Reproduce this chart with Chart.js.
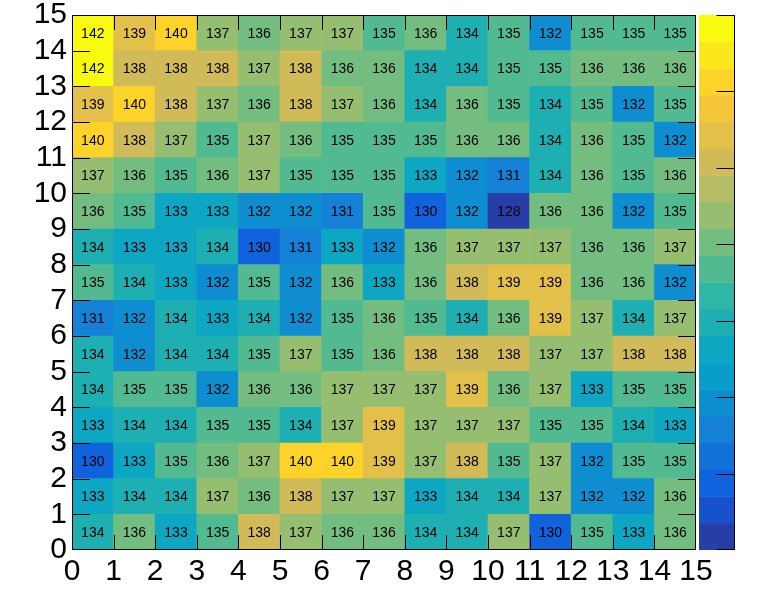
<!DOCTYPE html>
<html>
<head>
<meta charset="utf-8">
<script src="https://cdn.jsdelivr.net/npm/chart.js@4/dist/chart.umd.min.js"></script>
<style>
    body { margin: 0; background: #fff; }
    #wrap { position: relative; width: 769px; height: 589px; }
    #mapChart { position: absolute; left: 0; top: 0; }
    #paletteChart { position: absolute; left: 699px; top: 15px; }
</style>
</head>
<body>
<div id="wrap">
    <canvas id="mapChart" width="769" height="589"></canvas>
    <canvas id="paletteChart" width="36" height="535"></canvas>
</div>
<script>
// bin contents, top row (y bin 14) first
const binRows = [
    [142, 139, 140, 137, 136, 137, 137, 135, 136, 134, 135, 132, 135, 135, 135],
    [142, 138, 138, 138, 137, 138, 136, 136, 134, 134, 135, 135, 136, 136, 136],
    [139, 140, 138, 137, 136, 138, 137, 136, 134, 136, 135, 134, 135, 132, 135],
    [140, 138, 137, 135, 137, 136, 135, 135, 135, 136, 136, 134, 136, 135, 132],
    [137, 136, 135, 136, 137, 135, 135, 135, 133, 132, 131, 134, 136, 135, 136],
    [136, 135, 133, 133, 132, 132, 131, 135, 130, 132, 128, 136, 136, 132, 135],
    [134, 133, 133, 134, 130, 131, 133, 132, 136, 137, 137, 137, 136, 136, 137],
    [135, 134, 133, 132, 135, 132, 136, 133, 136, 138, 139, 139, 136, 136, 132],
    [131, 132, 134, 133, 134, 132, 135, 136, 135, 134, 136, 139, 137, 134, 137],
    [134, 132, 134, 134, 135, 137, 135, 136, 138, 138, 138, 137, 137, 138, 138],
    [134, 135, 135, 132, 136, 136, 137, 137, 137, 139, 136, 137, 133, 135, 135],
    [133, 134, 134, 135, 135, 134, 137, 139, 137, 137, 137, 135, 135, 134, 133],
    [130, 133, 135, 136, 137, 140, 140, 139, 137, 138, 135, 137, 132, 135, 135],
    [133, 134, 134, 137, 136, 138, 137, 137, 133, 134, 134, 137, 132, 132, 136],
    [134, 136, 133, 135, 138, 137, 136, 136, 134, 134, 137, 130, 135, 133, 136]
];
const axisMin = 0;
const axisMax = 15;
const zMin = 128;
const zMax = 142;
const nContours = 20;
const paletteTicks = [128, 130, 132, 134, 136, 138, 140, 142];

// kBird gradient
const birdStops = [0.0000, 0.1250, 0.2500, 0.3750, 0.5000, 0.6250, 0.7500, 0.8750, 1.0000];
const birdRed   = [0.2082, 0.0592, 0.0780, 0.0232, 0.1802, 0.5301, 0.8186, 0.9956, 0.9764];
const birdGreen = [0.1664, 0.3599, 0.5041, 0.6419, 0.7178, 0.7492, 0.7328, 0.7862, 0.9832];
const birdBlue  = [0.5293, 0.8684, 0.8385, 0.7914, 0.6425, 0.4662, 0.3499, 0.1968, 0.0539];

const FONT = "'Liberation Sans', Arial, Helvetica, sans-serif";
Chart.defaults.font.family = FONT;

function birdColor(f) {
    let k = 0;
    while (k < birdStops.length - 2 && f > birdStops[k + 1]) k++;
    const t = (f - birdStops[k]) / (birdStops[k + 1] - birdStops[k]);
    const mix = arr => Math.round(255 * (arr[k] + (arr[k + 1] - arr[k]) * t));
    return `rgb(${mix(birdRed)}, ${mix(birdGreen)}, ${mix(birdBlue)})`;
}

function levelColor(level) {
    const idx = Math.floor((level + 0.99) * 255 / nContours);
    return birdColor(Math.min(idx, 254) / 254);
}

function valueLevel(v) {
    const k = Math.floor((v - zMin) / (zMax - zMin) * nContours);
    return Math.max(0, Math.min(nContours - 1, k));
}

// one floating bar per cell
const cells = [];
binRows.forEach((row, r) => {
    const yBin = binRows.length - 1 - r;
    row.forEach((v, xBin) => {
        cells.push({ x: xBin + 0.5, y: [yBin, yBin + 1], v: v });
    });
});

// cell values, then the frame and inward ticks as 1px filled rects
const mapOverlay = {
    id: 'mapOverlay',
    afterDatasetsDraw(chart) {
        const { ctx, chartArea: a, scales } = chart;
        const meta = chart.getDatasetMeta(0);
        ctx.save();
        ctx.fillStyle = '#000';
        ctx.font = '14px ' + FONT;
        ctx.textAlign = 'center';
        ctx.textBaseline = 'middle';
        meta.data.forEach((el, i) => {
            const c = el.getCenterPoint();
            ctx.fillText(String(cells[i].v), c.x, c.y + 1);
        });

        const left = Math.round(a.left);
        const right = Math.round(a.right);
        const top = Math.round(a.top);
        const bottom = Math.round(a.bottom);
        for (let t = axisMin; t <= axisMax; t++) {
            const px = Math.min(Math.max(Math.round(scales.x.getPixelForValue(t)), left), right - 1);
            ctx.fillRect(px, bottom - 15, 1, 15);
            ctx.fillRect(px, top, 1, 15);
            const py = Math.min(Math.max(Math.round(scales.y.getPixelForValue(t)), top), bottom - 1);
            ctx.fillRect(left, py, 18, 1);
            ctx.fillRect(right - 18, py, 18, 1);
        }
        ctx.fillRect(left, top, right - left, 1);
        ctx.fillRect(left, bottom - 1, right - left, 1);
        ctx.fillRect(left, top, 1, bottom - top);
        ctx.fillRect(right - 1, top, 1, bottom - top);
        ctx.restore();
    }
};

new Chart(document.getElementById('mapChart'), {
    type: 'bar',
    data: {
        datasets: [{
            data: cells,
            backgroundColor: cells.map(c => levelColor(valueLevel(c.v))),
            borderWidth: 0,
            barPercentage: 1,
            categoryPercentage: 1
        }]
    },
    options: {
        responsive: false,
        animation: false,
        events: [],
        layout: { padding: { top: 15, right: 73, left: 0, bottom: 0 } },
        plugins: { legend: { display: false }, tooltip: { enabled: false } },
        scales: {
            x: {
                type: 'linear',
                min: axisMin,
                max: axisMax,
                offset: false,
                grid: { drawOnChartArea: false, drawTicks: false },
                border: { display: false },
                ticks: {
                    stepSize: 1,
                    autoSkip: false,
                    maxRotation: 0,
                    padding: 4,
                    color: '#000',
                    font: { size: 30 }
                },
                afterFit(scale) {
                    scale.height = 39;
                    scale.paddingLeft = 0;
                    scale.paddingRight = 0;
                }
            },
            y: {
                type: 'linear',
                min: axisMin,
                max: axisMax,
                offset: false,
                grid: { drawOnChartArea: false, drawTicks: false },
                border: { display: false },
                ticks: {
                    stepSize: 1,
                    autoSkip: false,
                    padding: 5,
                    color: '#000',
                    font: { size: 30 }
                },
                afterFit(scale) {
                    scale.width = 72;
                    scale.paddingTop = 0;
                    scale.paddingBottom = 0;
                }
            }
        }
    },
    plugins: [mapOverlay]
});

// palette axis: 20 contour bands
const bandCenters = [];
const bandColors = [];
for (let k = 0; k < nContours; k++) {
    bandCenters.push({ x: 1, y: zMin + (k + 0.5) * (zMax - zMin) / nContours });
    bandColors.push(levelColor(k));
}

const paletteAxis = {
    id: 'paletteAxis',
    afterDatasetsDraw(chart) {
        const { ctx, chartArea: a, scales } = chart;
        ctx.save();
        ctx.strokeStyle = 'black';
        ctx.lineWidth = 1;
        ctx.beginPath();
        const xr = Math.round(a.right) - 0.5;
        ctx.moveTo(xr, a.top); ctx.lineTo(xr, a.bottom);
        paletteTicks.forEach(t => {
            let py = Math.round(scales.y.getPixelForValue(t)) + 0.5;
            py = Math.min(Math.max(py, a.top + 0.5), a.bottom - 0.5);
            ctx.moveTo(xr, py); ctx.lineTo(xr - 18, py);
        });
        ctx.stroke();
        ctx.restore();
    }
};

new Chart(document.getElementById('paletteChart'), {
    type: 'bar',
    data: {
        datasets: [{
            data: bandCenters,
            backgroundColor: bandColors,
            borderWidth: 0,
            barPercentage: 1,
            categoryPercentage: 1
        }]
    },
    options: {
        indexAxis: 'y',
        responsive: false,
        animation: false,
        events: [],
        layout: { padding: 0 },
        plugins: { legend: { display: false }, tooltip: { enabled: false } },
        scales: {
            x: { type: 'linear', min: 0, max: 1, display: false },
            y: { type: 'linear', min: zMin, max: zMax, offset: false, display: false }
        }
    },
    plugins: [paletteAxis]
});
</script>
</body>
</html>
